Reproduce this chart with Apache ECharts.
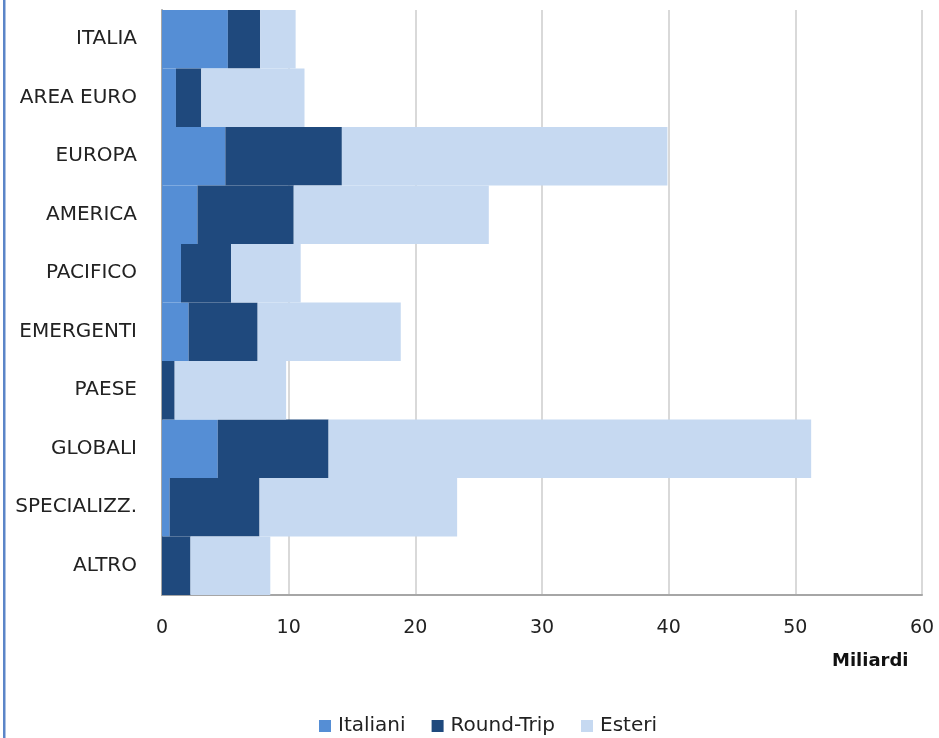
<!DOCTYPE html>
<html>
<head>
<meta charset="utf-8">
<script src="https://cdn.jsdelivr.net/npm/echarts@6/dist/echarts.min.js"></script>
<style>
html,body{margin:0;padding:0;background:#fff;}
#chart{width:939px;height:738px;}
</style>
</head>
<body>
<div id="chart"></div>
<script>
const categories = ['ITALIA','AREA EURO','EUROPA','AMERICA','PACIFICO','EMERGENTI','PAESE','GLOBALI','SPECIALIZZ.','ALTRO'];
const seriesNames = ['Italiani','Round-Trip','Esteri'];
// segment lengths (Miliardi)
const italiani  = [5.2, 1.1, 5.0, 2.8, 1.5, 2.1, 0.0, 4.4, 0.6, 0.0];
const roundTrip = [2.55, 2.0, 9.2, 7.6, 3.95, 5.45, 1.0, 8.75, 7.1, 2.25];
const esteri    = [2.8, 8.15, 25.7, 15.4, 5.5, 11.3, 8.8, 38.1, 15.6, 6.3];
const xTicks = [0,10,20,30,40,50,60];

const colors = ['#558ed5','#1f497d','#c6d9f1'];
const font = '"DejaVu Sans", sans-serif';

const chart = echarts.init(document.getElementById('chart'), null, {renderer:'canvas'});
const data = [italiani, roundTrip, esteri];
chart.setOption({
  animation:false,
  backgroundColor:'#ffffff',
  grid:{left:162, right:17, top:10, bottom:143, containLabel:false},
  legend:{
    data:seriesNames,
    top:711,
    left:314,
    itemWidth:12, itemHeight:12, itemGap:26,
    icon:'rect',
    textStyle:{fontFamily:font, fontSize:20, color:'#222', padding:[0,0,0,2]}
  },
  xAxis:{
    type:'value', min:xTicks[0], max:xTicks[xTicks.length-1], interval:10,
    axisLine:{show:true, lineStyle:{color:'#a6a6a6', width:2}},
    axisTick:{show:false},
    splitLine:{show:true, lineStyle:{color:'#d9d9d9', width:2}},
    axisLabel:{fontFamily:font, fontSize:19, color:'#222', margin:24}
  },
  yAxis:{
    type:'category', data:categories, inverse:true,
    axisLine:{show:true, lineStyle:{color:'#a6a6a6', width:2}},
    axisTick:{show:false},
    axisLabel:{fontFamily:font, fontSize:20, color:'#222', margin:25}
  },
  graphic:[
    {type:'text', left:832, top:652, style:{text:'Miliardi', font:'bold 18px ' + font, fill:'#111'}},
    {type:'rect', shape:{x:3, y:0, width:2.5, height:738}, style:{fill:'#5b85c8'}}
  ],
  series: seriesNames.map((n,i)=>({
    name:n, type:'bar', stack:'tot', data:data[i],
    barCategoryGap:'0%',
    itemStyle:{color:colors[i]}
  }))
});
</script>
</body>
</html>
